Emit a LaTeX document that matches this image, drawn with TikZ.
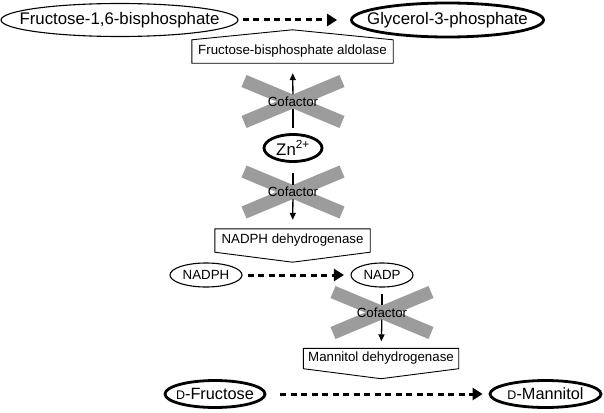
\documentclass[tikz,border=0pt]{standalone}
\usepackage{fontspec}
\setmainfont{Liberation Sans}
\usetikzlibrary{arrows.meta,calc,shapes.geometric}
\definecolor{xgray}{RGB}{156,156,156}
\newcommand{\zerow}[1]{\makebox[0pt][c]{#1}}
\begin{document}
\begin{tikzpicture}[x=1pt,y=-1pt,
  bigtxt/.style={font=\fontsize{16.8}{18}\selectfont},
  smalltxt/.style={font=\fontsize{13.3}{15}\selectfont},
  thinell/.style={draw, ellipse, inner sep=0pt, line width=1.1pt},
  thickell/.style={draw, ellipse, inner sep=0pt, line width=2.8pt},
  enzbox/.style={rectangle, inner sep=0pt, smalltxt},
  enzline/.style={line width=0.9pt, line join=miter},
  xbar/.style={xgray, line width=13pt, line cap=butt},
  cofnode/.style={smalltxt, inner xsep=1pt, inner ysep=2pt},
  varrow/.style={line width=1.3pt},
  vtip/.style={-{Triangle[length=7pt,width=6pt]}},
  darrow/.style={line width=3pt, dash pattern=on 6pt off 4.5pt, -{Triangle[length=10pt,width=12pt]}}
]
\useasboundingbox (0,0) rectangle (604,412);

% gray crosses
\coordinate (x1) at (293,101.5);
\coordinate (x2) at (293,192);
\coordinate (x3) at (382,312.5);
\foreach \c in {x1,x2,x3}{
  \draw[xbar] ([shift={(-49,20.5)}]\c) -- ([shift={(49,-20.5)}]\c);
  \draw[xbar] ([shift={(-49,-20.5)}]\c) -- ([shift={(49,20.5)}]\c);
}

% metabolites
\node[thinell, bigtxt, minimum width=237pt, minimum height=33pt] (f16) at (119.5,20) {\zerow{Fructose-1,6-bisphosphate}};
\node[thickell, bigtxt, minimum width=192pt, minimum height=34pt] (g3p) at (447.5,20) {\zerow{Glycerol-3-phosphate}};
\node[thickell, bigtxt, minimum width=58pt, minimum height=27pt] (zn) at (293,148) {\zerow{Zn\textsuperscript{2+}}};
\node[thinell, smalltxt, minimum width=72pt, minimum height=24pt] (nadph) at (206,275) {\zerow{NADPH}};
\node[thinell, smalltxt, minimum width=62pt, minimum height=24pt] (nadp) at (382,275) {\zerow{NADP}};
\node[thickell, font=\fontsize{16.3}{18}\selectfont, minimum width=100pt, minimum height=27pt] (fru) at (215,394) {\zerow{{\fontsize{12.5}{14}\selectfont D}-Fructose}};
\node[thickell, font=\fontsize{16.3}{18}\selectfont, minimum width=111pt, minimum height=27pt] (man) at (545.5,394) {\zerow{{\fontsize{12.5}{14}\selectfont D}-Mannitol}};

% enzymes
\node[enzbox, minimum width=201pt, minimum height=23pt] (ald) at (292.5,51.5) {Fructose-bisphosphate aldolase};
\draw[enzline] (ald.south west) -- (ald.north west) -- ($(ald.north)+(0,-10)$) -- (ald.north east) -- (ald.south east) -- cycle;
\node[enzbox, minimum width=155pt, minimum height=23pt] (ndh) at (292.5,240.5) {NADPH dehydrogenase};
\draw[enzline] (ndh.north west) -- (ndh.south west) -- ($(ndh.south)+(0,10)$) -- (ndh.south east) -- (ndh.north east) -- cycle;
\node[enzbox, minimum width=155pt, minimum height=20pt] (mdh) at (381,358.5) {Mannitol dehydrogenase};
\draw[enzline] (mdh.north west) -- (mdh.south west) -- ($(mdh.south)+(0,10)$) -- (mdh.south east) -- (mdh.north east) -- cycle;

% cofactor labels
\node[cofnode] (c1) at (x1) {Cofactor};
\node[cofnode] (c2) at (x2) {Cofactor};
\node[cofnode] (c3) at (x3) {Cofactor};

% vertical arrows
\draw[varrow, shorten <=5pt] (zn) -- (c1);
\draw[varrow, vtip, shorten >=10pt] (c1) -- (ald);
\draw[varrow, shorten <=10pt] (zn) -- (c2);
\draw[varrow, vtip, shorten >=9pt] (c2) -- (ndh);
\draw[varrow, shorten <=6pt] (nadp) -- (c3);
\draw[varrow, vtip, shorten >=7pt] (c3) -- (mdh);

% dashed reaction arrows
\draw[darrow, shorten <=4pt, shorten >=13pt] (f16.east) -- (g3p.west);
\draw[darrow, shorten <=5pt, shorten >=6.5pt] (nadph.east) -- (nadp.west);
\draw[darrow, shorten <=14pt, shorten >=6pt] (fru.east) -- (man.west);
\end{tikzpicture}
\end{document}
